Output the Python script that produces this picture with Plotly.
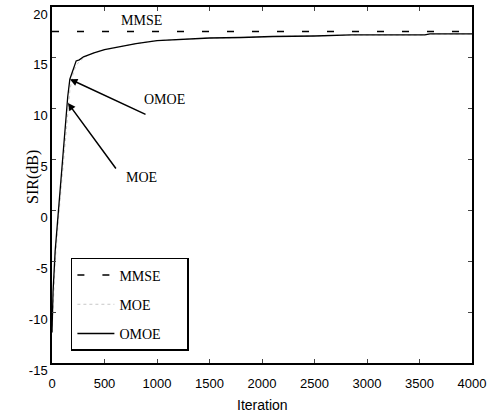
import plotly.graph_objects as go

iterations = [0, 10, 30, 60, 100, 130, 150, 170, 200, 230, 260, 300, 350, 400, 500, 600, 700,
              800, 1000, 1200, 1500, 1800, 2100, 2500, 2850, 3200, 3550, 3600, 4000]
omoe = [-12, -8, -4, 0, 5, 8.8, 11.2, 12.9, 13.9, 14.7, 14.8, 15.1, 15.3, 15.5, 15.8, 16.0, 16.2,
        16.4, 16.7, 16.8, 16.95, 17.0, 17.1, 17.15, 17.25, 17.25, 17.25, 17.35, 17.35]
moe = [-12, -9, -5, -1, 3.8, 7.5, 9.8, 11.8, 13.4, 14.3, 14.6, 15.0, 15.3, 15.5, 15.8, 16.0, 16.2,
       16.4, 16.7, 16.8, 16.95, 17.0, 17.1, 17.15, 17.25, 17.25, 17.25, 17.35, 17.35]
mmse_x = [0, 4000]
mmse_y = [17.6, 17.6]

x_ticks = [0, 500, 1000, 1500, 2000, 2500, 3000, 3500, 4000]
x_labels = ["0", "500", "1000", "1500", "2000", "2500", "3000", "3500", "4000"]
y_ticks = [-15, -10, -5, 0, 5, 10, 15, 20]
y_labels = ["-15", "-10", "-5", "0", "5", "10", "15", "20"]

serif = "Liberation Serif, Times New Roman, serif"
sans = "Liberation Sans, Arial, sans-serif"

fig = go.Figure()
fig.add_trace(go.Scatter(x=mmse_x, y=mmse_y, mode="lines", name="MMSE", legendgroup="a",
                         line=dict(color="black", width=1.5, dash="7px,18px")))
fig.add_trace(go.Scatter(x=iterations, y=moe, mode="lines", name="MOE", legendgroup="b",
                         line=dict(color="#c8c8c8", width=1, dash="dot")))
fig.add_trace(go.Scatter(x=iterations, y=omoe, mode="lines", name="OMOE\u00a0\u00a0\u00a0\u00a0\u00a0\u00a0",
                         legendgroup="c", line=dict(color="black", width=1.3)))

ann = [
    dict(x=857, y=18.72, text="MMSE", showarrow=False, font=dict(family=serif, size=14, color="black")),
    dict(x=1076, y=10.86, text="OMOE", showarrow=False, font=dict(family=serif, size=14, color="black")),
    dict(x=857, y=3.2, text="MOE", showarrow=False, font=dict(family=serif, size=14, color="black")),
    dict(x=171, y=12.9, ax=905, ay=9.38, axref="x", ayref="y", text="", showarrow=True,
         arrowhead=2, arrowsize=1, arrowwidth=1.5, arrowcolor="black"),
    dict(x=152, y=10.56, ax=619, ay=3.97, axref="x", ayref="y", text="", showarrow=True,
         arrowhead=2, arrowsize=1, arrowwidth=1.5, arrowcolor="black"),
    dict(xref="paper", yref="paper", x=(33 - 52) / 420, y=(363 - 177) / 356, text="SIR(dB)",
         xanchor="center", yanchor="middle",
         textangle=-90, showarrow=False, font=dict(family=serif, size=16, color="black")),
    dict(xref="paper", yref="paper", x=(262 - 52) / 420, y=(363 - 405) / 356, text="Iteration",
         xanchor="center", yanchor="middle",
         showarrow=False, font=dict(family=sans, size=14, color="black")),
]

fig.update_layout(
    width=498, height=415,
    margin=dict(l=52, r=26, t=7, b=52),
    plot_bgcolor="white", paper_bgcolor="white",
    annotations=ann,
    showlegend=True,
    legend=dict(x=0.045, y=0.295, xanchor="left", yanchor="top",
                bordercolor="black", borderwidth=1.5, bgcolor="white",
                font=dict(family=serif, size=14, color="black"),
                itemwidth=37, tracegroupgap=8),
    xaxis=dict(range=[0, 4000], tickvals=x_ticks, ticktext=x_labels, ticks="inside", ticklen=4,
               showline=True, linecolor="black", linewidth=1.5, mirror="ticks",
               showgrid=False, zeroline=False, automargin=False, ticklabelstandoff=8,
               tickfont=dict(family=sans, size=13, color="black")),
    yaxis=dict(range=[-15, 20], tickvals=y_ticks, ticktext=y_labels, ticks="inside", ticklen=4,
               showline=True, linecolor="black", linewidth=1.5, mirror="ticks",
               showgrid=False, zeroline=False, automargin=False, ticklabelshift=7,
               tickfont=dict(family=sans, size=13, color="black")),
)

fig.write_html("out.html", post_script="document.body.style.margin='0';",
               config={"displayModeBar": False})
